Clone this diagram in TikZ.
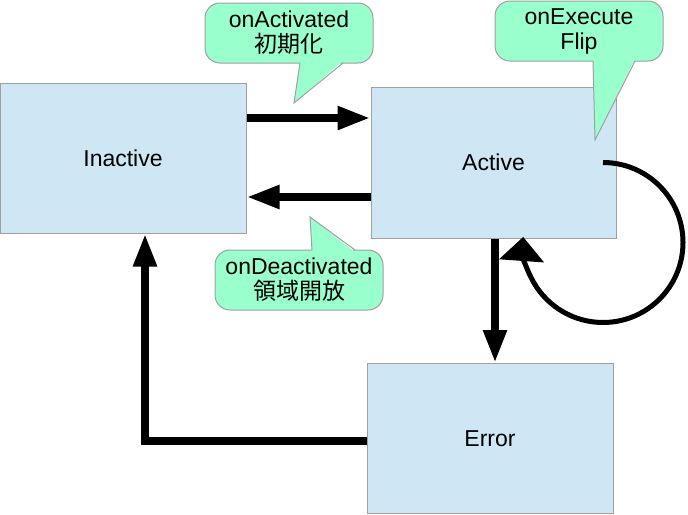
\documentclass[tikz,border=0pt]{standalone}
\usepackage{fontspec}
\setmainfont{Liberation Sans}
\newfontfamily\cjk{Noto Sans CJK JP}
\usetikzlibrary{arrows.meta}
\definecolor{stateblue}{RGB}{207,231,245}
\definecolor{edgegray}{RGB}{160,160,160}
\definecolor{notemint}{RGB}{153,255,204}
\tikzset{
  state/.style={draw=edgegray,fill=stateblue,line width=1pt,minimum width=246pt,minimum height=150pt,inner sep=0pt,font=\fontsize{23}{25}\selectfont},
  note/.style={draw=edgegray,fill=notemint,rounded corners=15pt,line width=1pt,minimum width=168pt,minimum height=60pt,inner sep=0pt,align=center,font=\fontsize{23}{25}\selectfont},
  flow/.style={line width=8pt,-{Triangle[length=33pt,width=22pt]}},
  tail/.style={draw=edgegray,line width=1pt},
}
\begin{document}
\begin{tikzpicture}[x=1pt,y=1pt,yscale=-1,xscale=1]
        \useasboundingbox (0,0) rectangle (688,514);
        %States
        \node[state] (inact) at (123,158) {Inactive};
        \node[state,minimum width=245pt,minimum height=151pt] (act) at (493.5,162.5) {Active};
        \node[state] (err) at (490,438.5) {Error};
        %Transitions
        \draw[flow] (inact.east |- 0,118) -- (act.west |- 0,118);
        \draw[flow] (act.west |- 0,197) -- (inact.east |- 0,197);
        \draw[flow] (act.south -| 495,0) -- (err.north -| 495,0);
        \draw[flow] (err.west |- 0,441) -| (inact.south -| 145,0);
        %Self loop
        \draw[line width=5pt,-{Triangle[length=24pt,width=44pt]}] (act.center -| 603,0) arc[start angle=-90,end angle=184,radius=80];
        %Callouts
        \node[note] (cact) at (289,33) {onActivated\\{\cjk 初期化}};
        \fill[notemint] (300,61) -- (294,103) -- (343,61) -- cycle;
        \draw[tail] (300,63) -- (294,103) -- (343,63);
        \node[note] (cexe) at (579,31) {onExecute\\Flip};
        \fill[notemint] (593,59) -- (595,140) -- (635,59) -- cycle;
        \draw[tail] (593,61) -- (595,140) -- (635,61);
        \node[note] (cdea) at (299,280) {onDeactivated\\{\cjk 領域開放}};
        \fill[notemint] (312,252) -- (310,217) -- (355,252) -- cycle;
        \draw[tail] (312,250) -- (310,217) -- (355,250);
    \end{tikzpicture}
\end{document}
